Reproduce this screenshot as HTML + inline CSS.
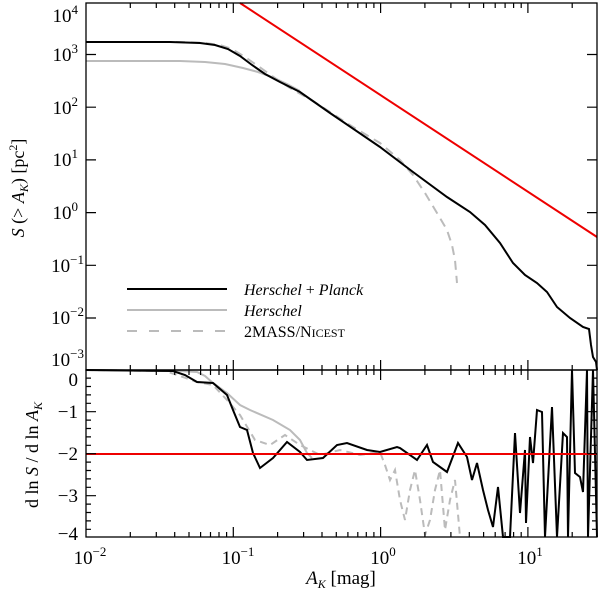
<!DOCTYPE html>
<html><head><style>
body{margin:0;background:#fff}
svg{display:block}
text{font-family:"Liberation Serif",serif;fill:#000}
</style></head><body>
<svg width="600" height="598" viewBox="0 0 600 598" xmlns="http://www.w3.org/2000/svg">
<polyline fill="none" stroke="#bbb" stroke-width="2" points="86,61 180,61 205,62 225,64 243,68 258,72 272,77 287,84 300,91"/>
<polyline fill="none" stroke="#bbb" stroke-width="2" stroke-dasharray="9,6" points="86,42 180,42 205,43 220,45 232,49 245,57 258,66 272,76 290,88 313,101 353,127 380,143 400,160 413,175 425,193 437,213 447,230 452,245 455,260 457,283"/>
<polyline fill="none" stroke="#000" stroke-width="2" points="86,42 170,42 200,43 215,45 228,49 240,56 252,65 265,74 280,82 300,92 330,113 380,147 413,172 447,197 470,212 485,225 500,243 513,263 525,275 537,283 547,292 557,307 570,318 583,327 589,329 591,345 593,357 596,362 597,370"/>
<line x1="240" y1="3" x2="597" y2="237" stroke="#e00" stroke-width="2"/>
<polyline fill="none" stroke="#bbb" stroke-width="2" points="86,370 180,371 197,372 205,376 213,383 227,393 240,405 250,410 273,420 290,430 300,440 307,453 312,458"/>
<polyline fill="none" stroke="#bbb" stroke-width="2" stroke-dasharray="7,5" points="86,370 165,371 180,376 197,382 213,385 227,400 240,415 255,440 270,445 285,435 300,445 320,455 340,450 360,455 380,452 385,465 390,480 395,470 400,500 405,520 410,490 415,470 420,500 425,535 430,520 435,490 440,470 445,530 450,500 455,480 460,537"/>
<polyline fill="none" stroke="#000" stroke-width="2" points="86,370 173,371 185,375 197,382 213,383 227,395 233,410 240,427 247,430 253,453 260,468 273,458 287,442 300,452 307,460 323,458 337,445 347,443 367,450 380,452 397,447 400,448 417,460 427,445 433,462 447,472 458,443 467,457 472,480 477,463 483,490 488,510 493,527 498,487 503,537 510,537 515,433 520,513 525,450 526,523 530,437 533,463 537,410 542,412 545,537 552,407 557,537 563,433 567,437 568,537 572,370 575,473 580,477 583,492 587,370 588,537 593,370 597,537"/>
<line x1="86" y1="454" x2="597" y2="454" stroke="#e00" stroke-width="2"/>
<rect x="86" y="3" width="511" height="367" fill="none" stroke="#000" stroke-width="1.3"/>
<rect x="86" y="370" width="511" height="167" fill="none" stroke="#000" stroke-width="1.3"/>
<g stroke="#000" stroke-width="1.2" fill="none">
<path d="M233.3 3v10M380.6 3v10M527.9 3v10M233.3 370v-10M380.6 370v-10M527.9 370v-10M233.3 370v10M380.6 370v10M527.9 370v10M233.3 537v-10M380.6 537v-10M527.9 537v-10"/>
<path d="M130.3 3v5M156.3 3v5M174.7 3v5M189 3v5M200.6 3v5M210.5 3v5M219 3v5M226.6 3v5M277.6 3v5M303.6 3v5M322 3v5M336.3 3v5M347.9 3v5M357.8 3v5M366.3 3v5M373.9 3v5M424.9 3v5M450.9 3v5M469.3 3v5M483.6 3v5M495.2 3v5M505.1 3v5M513.6 3v5M521.2 3v5M572.2 3v5"/>
<path d="M130.3 365v10M156.3 365v10M174.7 365v10M189 365v10M200.6 365v10M210.5 365v10M219 365v10M226.6 365v10M277.6 365v10M303.6 365v10M322 365v10M336.3 365v10M347.9 365v10M357.8 365v10M366.3 365v10M373.9 365v10M424.9 365v10M450.9 365v10M469.3 365v10M483.6 365v10M495.2 365v10M505.1 365v10M513.6 365v10M521.2 365v10M572.2 365v10"/>
<path d="M130.3 537v-5M156.3 537v-5M174.7 537v-5M189 537v-5M200.6 537v-5M210.5 537v-5M219 537v-5M226.6 537v-5M277.6 537v-5M303.6 537v-5M322 537v-5M336.3 537v-5M347.9 537v-5M357.8 537v-5M366.3 537v-5M373.9 537v-5M424.9 537v-5M450.9 537v-5M469.3 537v-5M483.6 537v-5M495.2 537v-5M505.1 537v-5M513.6 537v-5M521.2 537v-5M572.2 537v-5"/>
<path d="M86 54.5h10M86 107.2h10M86 159.9h10M86 212.6h10M86 265.3h10M86 318h10M597 54.5h-10M597 107.2h-10M597 159.9h-10M597 212.6h-10M597 265.3h-10M597 318h-10"/>
<path d="M86 411.7h10M86 453.7h10M86 495.7h10M597 411.7h-10M597 453.7h-10M597 495.7h-10"/>
<path d="M86 378.1h5M86 386.5h5M86 394.9h5M86 403.3h5M86 420.1h5M86 428.5h5M86 436.9h5M86 445.3h5M86 462.1h5M86 470.5h5M86 478.9h5M86 487.3h5M86 504.1h5M86 512.5h5M86 520.9h5M86 529.3h5M597 378.1h-5M597 386.5h-5M597 394.9h-5M597 403.3h-5M597 420.1h-5M597 428.5h-5M597 436.9h-5M597 445.3h-5M597 462.1h-5M597 470.5h-5M597 478.9h-5M597 487.3h-5M597 504.1h-5M597 512.5h-5M597 520.9h-5M597 529.3h-5"/>
</g>
<line x1="127" y1="289" x2="227" y2="289" stroke="#000" stroke-width="2"/>
<line x1="127" y1="310" x2="227" y2="310" stroke="#bbb" stroke-width="2"/>
<line x1="127" y1="331" x2="227" y2="331" stroke="#bbb" stroke-width="2" stroke-dasharray="10,12"/>
<text x="244" y="295" font-size="16" font-style="italic">Herschel <tspan font-style="normal">+</tspan> Planck</text>
<text x="244" y="316" font-size="16" font-style="italic">Herschel</text>
<text x="244" y="337" font-size="16">2MASS/N<tspan font-size="12">ICEST</tspan></text>
<g font-size="19" text-anchor="end">
<text x="78" y="22">10<tspan font-size="13" dy="-8">4</tspan></text>
<text x="78" y="61">10<tspan font-size="13" dy="-8">3</tspan></text>
<text x="78" y="114">10<tspan font-size="13" dy="-8">2</tspan></text>
<text x="78" y="166">10<tspan font-size="13" dy="-8">1</tspan></text>
<text x="78" y="219">10<tspan font-size="13" dy="-8">0</tspan></text>
<text x="84" y="272">10<tspan font-size="13" dy="-8">−1</tspan></text>
<text x="84" y="324">10<tspan font-size="13" dy="-8">−2</tspan></text>
<text x="84" y="366">10<tspan font-size="13" dy="-8">−3</tspan></text>
<text x="78" y="386">0</text>
<text x="78" y="418">−1</text>
<text x="78" y="460">−2</text>
<text x="78" y="502">−3</text>
<text x="78" y="540">−4</text>
</g>
<g font-size="19" text-anchor="middle">
<text x="90" y="564">10<tspan font-size="13" dy="-8">−2</tspan></text>
<text x="238" y="564">10<tspan font-size="13" dy="-8">−1</tspan></text>
<text x="383" y="564">10<tspan font-size="13" dy="-8">0</tspan></text>
<text x="530" y="564">10<tspan font-size="13" dy="-8">1</tspan></text>
<text x="341" y="584"><tspan font-style="italic">A<tspan font-size="12" dy="4">K</tspan></tspan><tspan dy="-4"> [mag]</tspan></text>
</g>
<text transform="translate(24,188) rotate(-90)" font-size="18" text-anchor="middle"><tspan font-style="italic">S</tspan> (&gt; <tspan font-style="italic">A<tspan font-size="12" dy="4">K</tspan></tspan><tspan dy="-4">) [pc</tspan><tspan font-size="12" dy="-7">2</tspan><tspan dy="7">]</tspan></text>
<text transform="translate(38,455) rotate(-90)" font-size="18" text-anchor="middle">d ln <tspan font-style="italic">S</tspan> / d ln <tspan font-style="italic">A<tspan font-size="12" dy="4">K</tspan></tspan></text>
</svg>
</body></html>
